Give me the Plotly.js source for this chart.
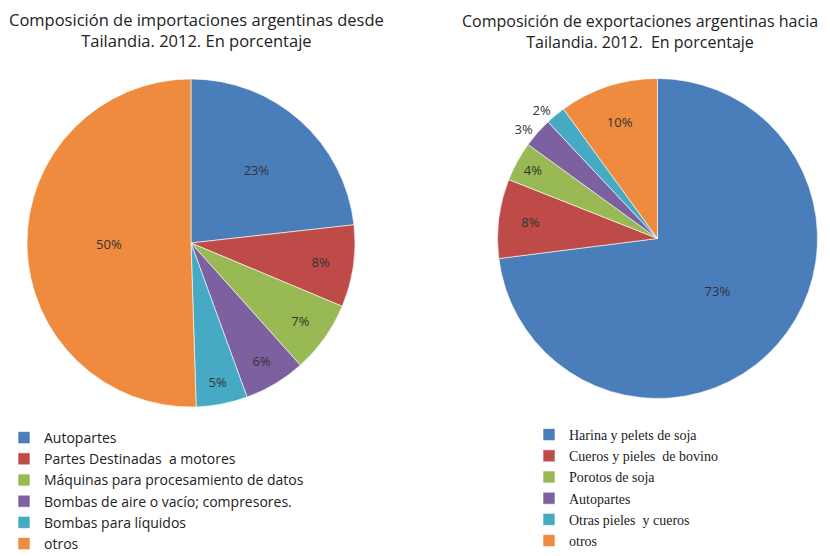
<!DOCTYPE html>
<html>
<head>
<meta charset="utf-8">
<script src="https://cdn.plot.ly/plotly-3.0.1.min.js"></script>
<style>html,body{margin:0;padding:0;background:#fff;}</style>
</head>
<body>
<div id="chart" style="width:830px;height:556px;"></div>
<script>
// Importaciones desde Tailandia 2012 (%)
const impLabels = ["Autopartes", "Partes Destinadas  a motores", "Máquinas para procesamiento de datos", "Bombas de aire o vacío; compresores.", "Bombas para líquidos", "otros"];
const impValues = [23, 8, 7, 6, 5, 50];
// Exportaciones hacia Tailandia 2012 (%)
const expLabels = ["Harina y pelets de soja", "Cueros y pieles  de bovino", "Porotos de soja", "Autopartes", "Otras pieles  y cueros", "otros"];
const expValues = [73, 8, 4, 3, 2, 10];

const colors = ["#4A7EBB", "#BE4B48", "#98B954", "#7D60A0", "#46AAC5", "#EE8B3E"];
const labelFont = {family: "Open Sans, Liberation Sans, sans-serif", size: 13, color: "#333333"};

// zero-width space keeps the two pies' legend entries separate (same names in both)
const expLegendLabels = expLabels.map(s => s + "\u200B");

const traces = [
  {
    type: "pie", labels: impLabels, values: impValues, sort: false, direction: "clockwise", rotation: 0,
    marker: {colors: colors, line: {color: "rgba(255,255,255,0.6)", width: 1}},
    texttemplate: "%{value}%", textposition: "inside", insidetextorientation: "horizontal",
    textfont: labelFont, hoverinfo: "label+value",
    domain: {x: [0.0325, 0.4277], y: [0.268, 0.858]},
    legend: "legend"
  },
  {
    type: "pie", labels: expLegendLabels, values: expValues, sort: false, direction: "clockwise", rotation: 0,
    marker: {colors: colors, line: {color: "rgba(255,255,255,0.6)", width: 1}},
    texttemplate: "%{value}%", textposition: ["inside", "inside", "inside", "outside", "outside", "inside"],
    insidetextorientation: "horizontal",
    textfont: labelFont, outsidetextfont: labelFont, hoverinfo: "label+value",
    domain: {x: [0.5994, 0.985], y: [0.2833, 0.8588]},
    legend: "legend2"
  }
];

const layout = {
  width: 830, height: 556,
  margin: {l: 0, r: 0, t: 0, b: 0, autoexpand: false},
  paper_bgcolor: "#ffffff",
  showlegend: true,
  legend: {
    x: 4/830, y: 1 - 422/556, xanchor: "left", yanchor: "top",
    font: {family: "Open Sans, Liberation Sans, sans-serif", size: 14, color: "#222"},
    itemwidth: 30, tracegroupgap: 0, bgcolor: "rgba(0,0,0,0)"
  },
  legend2: {
    x: 529/830, y: 1 - 419/556, xanchor: "left", yanchor: "top",
    font: {family: "Liberation Serif, serif", size: 14, color: "#222"},
    itemwidth: 30, tracegroupgap: 0, bgcolor: "rgba(0,0,0,0)"
  },
  annotations: [
    {text: "Composición de importaciones argentinas desde<br>Tailandia. 2012. En porcentaje", x: 196/830, y: 1 - 6/556,
     xref: "paper", yref: "paper", xanchor: "center", yanchor: "top", showarrow: false,
     font: {family: "Open Sans, Liberation Sans, sans-serif", size: 16.5, color: "#222"}},
    {text: "Composición de exportaciones argentinas hacia<br>Tailandia. 2012.  En porcentaje", x: 640/830, y: 1 - 8/556,
     xref: "paper", yref: "paper", xanchor: "center", yanchor: "top", showarrow: false,
     font: {family: "Open Sans, Liberation Sans, sans-serif", size: 16, color: "#222"}}
  ]
};

Plotly.newPlot("chart", traces, layout, {displayModeBar: false, staticPlot: true});
</script>
</body>
</html>
